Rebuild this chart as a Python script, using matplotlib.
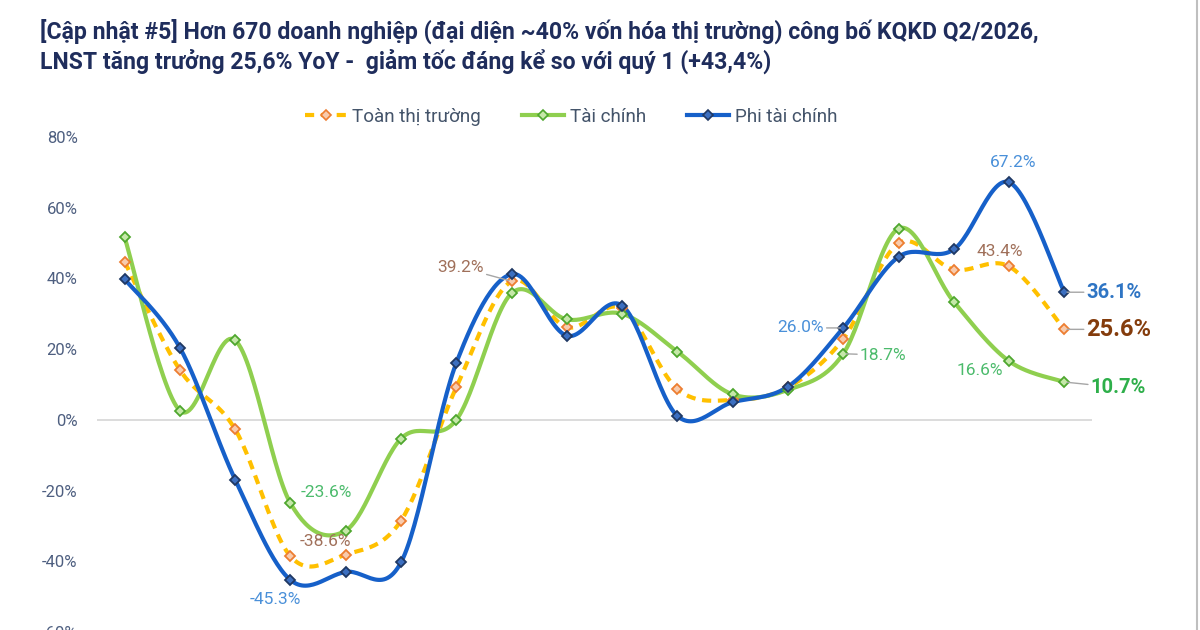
import numpy as np
import matplotlib
matplotlib.use("Agg")
import matplotlib.pyplot as plt
from matplotlib.lines import Line2D

plt.rcParams['font.family'] = ['Roboto', 'DejaVu Sans']

# values (% YoY), 18 quarters
toan_thi_truong = [44.7, 14.1, -2.7, -38.6, -38.1, -28.5, 9.2, 39.2, 26.2, 31.5,
                   8.7, 5.6, 9.2, 22.9, 49.9, 42.5, 43.4, 25.6]
tai_chinh = [51.6, 2.6, 22.5, -23.6, -31.3, -5.3, 0.0, 35.8, 28.4, 30.0,
             19.3, 7.2, 8.5, 18.7, 54.1, 33.4, 16.6, 10.7]
phi_tai_chinh = [39.8, 20.4, -16.9, -45.3, -43.0, -40.3, 16.1, 41.2, 23.8, 32.3,
                 1.1, 5.0, 9.4, 26.0, 46.1, 48.2, 67.2, 36.1]
series_names = ['Toàn thị trường', 'Tài chính', 'Phi tài chính']
y_ticks = [-60, -40, -20, 0, 20, 40, 60, 80]

title = ("[Cập nhật #5] Hơn 670 doanh nghiệp (đại diện ~40% vốn hóa thị trường) công bố KQKD Q2/2026,\n"
         "LNST tăng trưởng 25,6% YoY -  giảm tốc đáng kể so với quý 1 (+43,4%)")


def smooth(xs, ys, steps=30):
    # catmull-rom, like excel's "smoothed line"
    xs = np.asarray(xs, float)
    ys = np.asarray(ys, float)
    px = np.concatenate([[xs[0]], xs, [xs[-1]]])
    py = np.concatenate([[ys[0]], ys, [ys[-1]]])
    out_x, out_y = [], []
    t = np.linspace(0, 1, steps)
    for i in range(1, len(px) - 2):
        x0, x1, x2, x3 = px[i - 1:i + 3]
        y0, y1, y2, y3 = py[i - 1:i + 3]
        cx1, cy1 = x1 + (x2 - x0) / 6, y1 + (y2 - y0) / 6
        cx2, cy2 = x2 - (x3 - x1) / 6, y2 - (y3 - y1) / 6
        bx = (1 - t)**3 * x1 + 3 * (1 - t)**2 * t * cx1 + 3 * (1 - t) * t**2 * cx2 + t**3 * x2
        by = (1 - t)**3 * y1 + 3 * (1 - t)**2 * t * cy1 + 3 * (1 - t) * t**2 * cy2 + t**3 * y2
        out_x.extend(bx)
        out_y.extend(by)
    return np.array(out_x), np.array(out_y)


fig = plt.figure(figsize=(12, 6.3), dpi=100)
ax = fig.add_axes([97 / 1200, -2 / 630, 995 / 1200, 495 / 630])
x = np.arange(len(toan_thi_truong))

styles = [
    (toan_thi_truong, '#FFC000', '#ED7D31', '#F8CBAD', (0, (2.2, 1.6))),
    (tai_chinh, '#8FCF4F', '#4EA72E', '#C5E8A8', '-'),
    (phi_tai_chinh, '#1660C9', '#1F3864', '#3C6FC0', '-'),
]
handles = []
for (vals, lc, mec, mfc, ls), name in zip(styles, series_names):
    sx, sy = smooth(x, vals)
    ax.plot(sx, sy, color=lc, lw=3, ls=ls, solid_capstyle='round', zorder=3)
    ax.plot(x, vals, ls='none', marker='D', ms=5, mec=mec, mfc=mfc, mew=1.3, zorder=4)
    handles.append(Line2D([0], [0], color=lc, lw=3, ls=ls, marker='D', ms=5,
                          mec=mec, mfc=mfc, mew=1.2))

ax.axhline(0, color='#D9D9D9', lw=1.3, zorder=1)
ax.set_xlim(-0.5, len(x) - 0.5)
ax.set_ylim(-60, 80)
ax.set_xticks([])
ax.set_yticks(y_ticks)
ax.set_yticklabels([f'{v}%' for v in y_ticks], color='#4E5F80', fontsize=12)
ax.tick_params(axis='y', length=0, pad=14)
for s in ax.spines.values():
    s.set_visible(False)

lead = dict(arrowstyle='-', color='#A6A6A6', lw=1, shrinkA=0, shrinkB=2)
blue_lbl, brown_lbl, green_lbl = '#4A90D9', '#A0705A', '#4CBB6C'


def label(i, vals, text, dx, dy, color, ha='center', size=12.5, bold=False, leader=False):
    ax.annotate(text, (x[i], vals[i]), xytext=(dx, dy), textcoords='offset points',
                ha=ha, va='center', color=color, fontsize=size,
                fontweight='bold' if bold else 'normal',
                arrowprops=lead if leader else None, zorder=5)


label(3, phi_tai_chinh, '-45.3%', -11, -14, blue_lbl)
label(3, tai_chinh, '-23.6%', 26, 8, green_lbl)
label(3, toan_thi_truong, '-38.6%', 25, 11, brown_lbl)
label(7, toan_thi_truong, '39.2%', -20, 10, brown_lbl, ha='right', leader=True)
label(13, phi_tai_chinh, '26.0%', -14, 0, blue_lbl, ha='right', leader=True)
label(13, tai_chinh, '18.7%', 12, -1, green_lbl, ha='left', leader=True)
label(16, phi_tai_chinh, '67.2%', 3, 14, blue_lbl)
label(16, toan_thi_truong, '43.4%', -7, 11, brown_lbl)
label(16, tai_chinh, '16.6%', -21, -7, green_lbl)
label(17, phi_tai_chinh, '36.1%', 16, 0, '#2F75C4', ha='left', size=14.5, bold=True, leader=True)
label(17, toan_thi_truong, '25.6%', 16, 0, '#843C0C', ha='left', size=17, bold=True, leader=True)
label(17, tai_chinh, '10.7%', 19, -4, '#2EAF4A', ha='left', size=14.5, bold=True, leader=True)

fig.legend(handles, series_names, loc='center', bbox_to_anchor=(571 / 1200, 1 - 117 / 630),
           ncol=3, frameon=False, fontsize=13.6, handlelength=2.2, columnspacing=2.2,
           handletextpad=0.3, labelcolor='#44546A')

fig.text(40 / 1200, 1 - 46 / 630, title, ha='left', va='center', fontsize=16.6,
         fontweight='bold', color='#1F2D5C', linespacing=1.25)
fig.add_artist(Line2D([1197 / 1200] * 2, [0, 1], color='#BFBFBF', lw=1.5))

fig.savefig('out.png', dpi=100, facecolor='white')
